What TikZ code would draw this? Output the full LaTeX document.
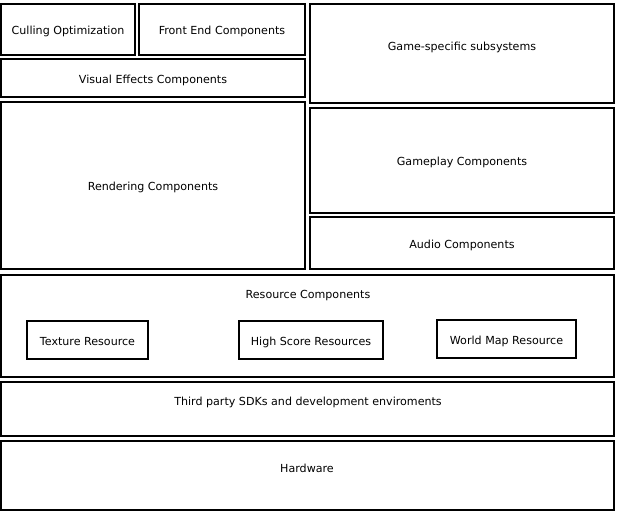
\documentclass[tikz,border=0pt]{standalone}
\usepackage{fontspec}
\setmainfont{DejaVu Sans}
\begin{document}
\begin{tikzpicture}[x=1pt,y=-1pt,
  blk/.style={draw=black,line width=1.7pt,fill=white},
  inner/.style={draw=black,line width=1.4pt},
  lbl/.style={font=\fontsize{11.1}{13}\selectfont,inner sep=0pt,anchor=center}]
\useasboundingbox (0,0) rectangle (623,520);
% boxes
\draw[blk] (1,4) rectangle (135,55);
\draw[blk] (139,4) rectangle (305,55);
\draw[blk] (310,4) rectangle (614,103);
\draw[blk] (1,59) rectangle (305,97);
\draw[blk] (1,102) rectangle (305,269);
\draw[blk] (310,108) rectangle (614,213);
\draw[blk] (310,217) rectangle (614,269);
\draw[blk] (1,275) rectangle (614,377);
\draw[inner] (27,321) rectangle (148,359);
\draw[inner] (239,321) rectangle (383,359);
\draw[inner] (437,320) rectangle (576,358);
\draw[blk] (1,382) rectangle (614,436);
\draw[blk] (1,441) rectangle (614,510);
% labels
\node[lbl] (cull) at (68,31) {Culling Optimization};
\node[lbl] (front) at (222,31) {Front End Components};
\node[lbl] (game) at (462,47) {Game-specific subsystems};
\node[lbl] (vfx) at (153,80) {Visual Effects Components};
\node[lbl] (rend) at (153,187) {Rendering Components};
\node[lbl] (gameplay) at (462,162) {Gameplay Components};
\node[lbl] (audio) at (462,245) {Audio Components};
\node[lbl] (res) at (308,296) {Resource Components};
\node[lbl] (tex) at (87.5,342) {Texture Resource};
\node[lbl] (hs) at (311,342) {High Score Resources};
\node[lbl] (wm) at (506.5,341) {World Map Resource};
\node[lbl] (sdk) at (308,402) {Third party SDKs and development enviroments};
\node[lbl] (hw) at (307,468) {Hardware};
\end{tikzpicture}
\end{document}
